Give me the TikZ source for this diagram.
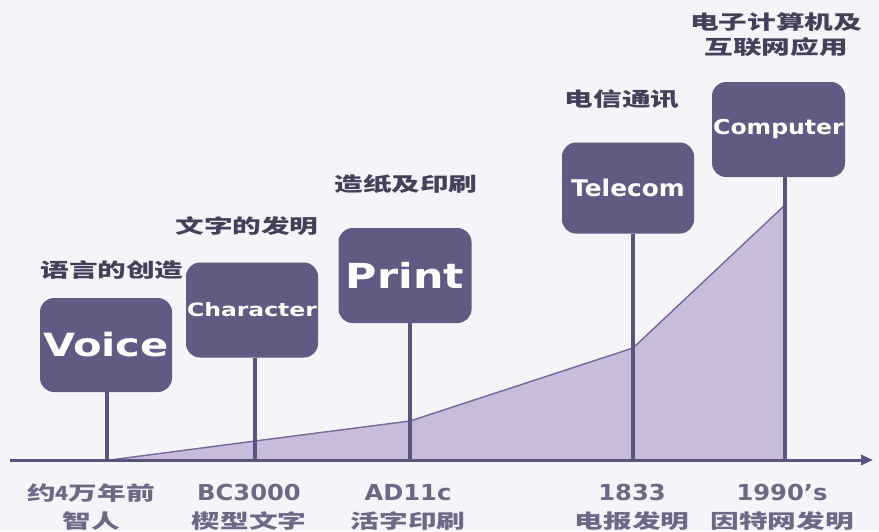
\documentclass[tikz,border=0pt]{standalone}
\usepackage{fontspec}
\usepackage{graphicx}
\usetikzlibrary{arrows.meta}
\newfontfamily\cjk[FakeStretch=1.47]{Noto Sans CJK SC}
\newfontfamily\latb{DejaVu Sans}
\definecolor{bgc}{HTML}{F5F4F9}
\definecolor{boxc}{HTML}{635A84}
\definecolor{areac}{HTML}{C9BBDB}
\definecolor{edgec}{HTML}{76679A}
\definecolor{linec}{HTML}{5A537E}
\definecolor{topc}{HTML}{45405A}
\definecolor{botc}{HTML}{6E6887}
\tikzset{
  era/.style={fill=boxc, rounded corners=14pt, inner sep=0pt, minimum width=132pt, minimum height=94pt, text=white, font=\latb\bfseries},
  stem/.style={draw=linec, line width=3.2pt},
  toplab/.style={text=topc, inner sep=0pt, font=\cjk\bfseries\fontsize{19.5}{25}\selectfont, align=center},
  botlab/.style={text=botc, inner sep=0pt, anchor=north, font=\fontsize{19.5}{28}\selectfont, align=center}
}
\begin{document}
\begin{tikzpicture}[x=1pt,y=-1pt]
\useasboundingbox (0,0) rectangle (879,531);
\fill[bgc] (0,0) rectangle (879,531);
% axis ticks
\coordinate (t1) at (107,460);
\coordinate (t2) at (255,460);
\coordinate (t3) at (410,460);
\coordinate (t4) at (633,460);
\coordinate (t5) at (785,460);
\coordinate (a0) at (10,460);
\coordinate (a1) at (873,460);
% growth area
\coordinate (g1) at (110,460);
\coordinate (g2) at (255,441);
\coordinate (g3) at (410,421);
\coordinate (g4) at (633,348);
\coordinate (g5) at (785,205);
\fill[areac] (g1) -- (g2) -- (g3) -- (g4) -- (g5) -- (t5) -- cycle;
\draw[edgec, line width=1.4pt, line join=round] (g1) -- (g2) -- (g3) -- (g4) -- (g5);
% boxes
\node[era] (voice) at (106,345) {\scalebox{1.3}[1]{\fontsize{32}{32}\selectfont Voice}};
\node[era, minimum height=95pt] (char) at (252,310) {\scalebox{1.27}[1]{\fontsize{18.5}{18.5}\selectfont Character}};
\node[era, minimum width=133pt, minimum height=95pt] (print) at (405,275.5) {\scalebox{1.24}[1]{\fontsize{34.5}{34.5}\selectfont Print}};
\node[era, minimum height=91pt] (tele) at (628,188) {\raisebox{-4pt}{\scalebox{1.08}[1]{\fontsize{23}{23}\selectfont Telecom}}};
\node[era, minimum width=133pt, minimum height=95pt] (comp) at (778.5,129.5) {\raisebox{-2pt}{\scalebox{1.15}[1]{\fontsize{20.5}{20.5}\selectfont Computer}}};
% axis
\draw[linec, line width=3pt, -{Triangle[length=12pt,width=10pt]}] (a0) -- (a1);
% stems
\draw[stem] (t1 |- voice.south) -- (t1);
\draw[stem] (t2 |- char.south) -- (t2);
\draw[stem] (t3 |- print.south) -- (t3);
\draw[stem] (t4 |- tele.south) -- (t4);
\draw[stem] (t5 |- comp.south) -- (t5);
% top labels
\node[toplab] (l1) at (112,270) {语言的创造};
\node[toplab] (l2) at (247,226) {文字的发明};
\node[toplab] (l3) at (406,184) {造纸及印刷};
\node[toplab] (l4) at (622,99) {电信通讯};
\node[toplab] (l5) at (776,35) {电子计算机及\\互联网应用};
% bottom labels
\node[botlab] (b1) at (91,484) {\cjk\bfseries 约\scalebox{0.75}[1]{4}万年前\\\cjk\bfseries 智人};
\node[botlab] (b2) at (249,484) {\latb\bfseries\fontsize{22}{28}\selectfont\scalebox{1.1}[1]{BC3000}\\\cjk\bfseries 楔型文字};
\node[botlab] (b3) at (408,484) {\latb\bfseries\fontsize{22}{28}\selectfont\scalebox{1.1}[1]{AD11c}\\\cjk\bfseries 活字印刷};
\node[botlab] (b4) at (632,484) {\latb\bfseries\fontsize{22}{28}\selectfont\scalebox{1.1}[1]{1833}\\\cjk\bfseries 电报发明};
\node[botlab] (b5) at (782,484) {\latb\bfseries\fontsize{22}{28}\selectfont\scalebox{1.1}[1]{1990’s}\\\cjk\bfseries 因特网发明};
\end{tikzpicture}
\end{document}
